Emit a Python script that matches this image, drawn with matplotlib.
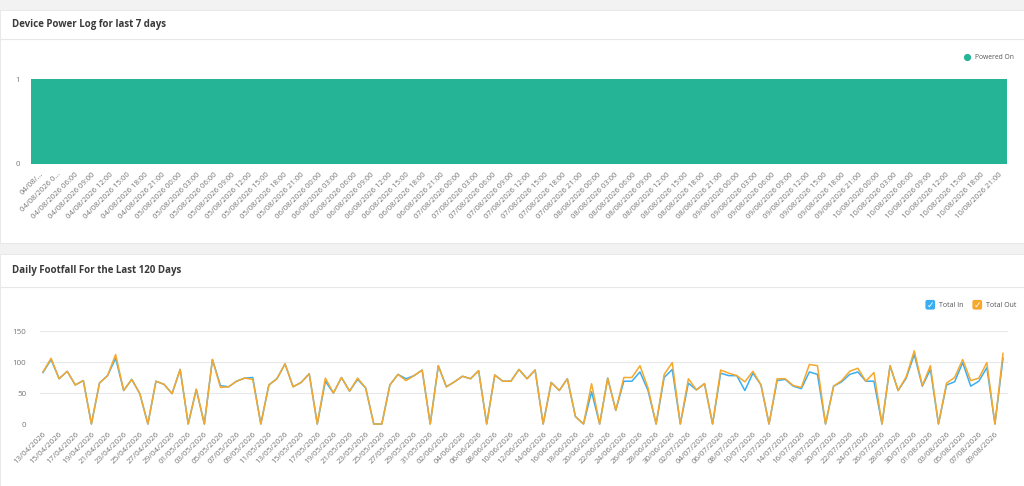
import matplotlib
matplotlib.use("Agg")
import matplotlib.pyplot as plt
from matplotlib.patches import Rectangle, FancyBboxPatch, Circle
from datetime import date, timedelta

plt.rcParams['font.family'] = ['Open Sans', 'DejaVu Sans']

# --- data: device power log (3-hour slots, last 7 days) ---
power_days = ['04', '05', '06', '07', '08', '09', '10']
power_hours = ['00', '03', '06', '09', '12', '15', '18', '21']
power_labels = [f"{d}/08/2026 {h}:00" for d in power_days for h in power_hours]
power_labels[0] = "04/08/..."
power_labels[1] = "04/08/2026 0..."
powered_on = [1] * len(power_labels)

# --- data: daily footfall, 120 days from 13/04/2026 ---
start_day = date(2026, 4, 13)
total_out = [84, 106, 73, 85, 63, 70, 0, 66, 78, 112, 54, 72, 49, 0, 69, 64, 49, 88, 0, 56,
             0, 104, 59, 60, 69, 74, 72, 0, 63, 73, 97, 60, 67, 81, 0, 74, 50, 75, 53, 74,
             58, 0, 0, 63, 80, 70, 78, 87, 0, 94, 60, 68, 77, 73, 86, 0, 79, 69, 69, 88,
             73, 87, 0, 67, 54, 73, 12, 0, 65, 0, 74, 22, 75, 75, 94, 58, 0, 80, 99, 0,
             73, 55, 65, 0, 87, 82, 78, 68, 85, 63, 0, 73, 73, 62, 59, 96, 94, 0, 61, 70,
             85, 90, 69, 83, 0, 94, 54, 76, 118, 62, 94, 0, 66, 75, 104, 70, 74, 99, 0, 114]
total_in = [83, 104, 73, 85, 63, 70, 0, 66, 78, 106, 54, 72, 49, 0, 69, 64, 49, 88, 0, 56,
            0, 104, 62, 60, 69, 74, 75, 0, 63, 73, 97, 60, 67, 81, 0, 69, 50, 75, 53, 72,
            58, 0, 0, 63, 80, 73, 78, 87, 0, 94, 60, 68, 77, 73, 86, 0, 79, 69, 69, 88,
            73, 87, 0, 67, 54, 73, 12, 0, 52, 0, 74, 22, 69, 69, 84, 54, 0, 75, 88, 0,
            66, 55, 65, 0, 82, 78, 78, 54, 82, 63, 0, 70, 72, 61, 57, 84, 80, 0, 61, 68,
            80, 84, 69, 69, 0, 94, 54, 74, 112, 61, 88, 0, 63, 68, 99, 61, 69, 91, 0, 106]
foot_labels = [(start_day + timedelta(days=i)).strftime("%d/%m/%Y") for i in range(len(total_out))]

W, H = 1024, 486
fig = plt.figure(figsize=(W / 100, H / 100), dpi=100)
fig.patch.set_facecolor('#f2f2f2')

def fx(px):
    return px / W

def fy(py):
    return 1 - py / H

# white cards + header separators
bg = fig.add_axes([0, 0, 1, 1])
bg.set_xlim(0, W)
bg.set_ylim(H, 0)
bg.axis('off')
bg.add_patch(Rectangle((0, 10), W, 233, facecolor='white', edgecolor='#e6e6e6', lw=0.6))
bg.add_patch(Rectangle((0, 254), W, 240, facecolor='white', edgecolor='#e6e6e6', lw=0.6))
bg.plot([0, W], [39.5, 39.5], color='#e8e8e8', lw=0.8)
bg.plot([0, W], [286.5, 286.5], color='#e8e8e8', lw=0.8)
bg.text(12, 25, "Device Power Log for last 7 days", fontsize=7.0, fontweight='bold',
        color='#3a3a3a', va='center', ha='left')
bg.text(12, 270, "Daily Footfall For the Last 120 Days", fontsize=7.0, fontweight='bold',
        color='#3a3a3a', va='center', ha='left')

teal = '#25b495'
blue = '#3aaef2'
orange = '#f5a82c'

# legends
bg.add_patch(Circle((967.5, 57.5), 3.6, facecolor=teal, edgecolor='none'))
bg.text(975, 57.5, "Powered On", fontsize=4.9, color='#555555', va='center', ha='left')
for x0, col, lab in [(925, blue, "Total In"), (972, orange, "Total Out")]:
    bg.add_patch(FancyBboxPatch((x0 + 1, 300.5), 8.5, 8.5, boxstyle="round,pad=0.6,rounding_size=2",
                                facecolor=col, edgecolor='none'))
    bg.text(x0 + 5.3, 305, "\u2713", fontsize=6.5, color='white', va='center', ha='center',
            fontweight='bold', family='DejaVu Sans')
    bg.text(x0 + 14, 305, lab, fontsize=5.0, color='#555555', va='center', ha='left')

# --- top chart ---
ax1 = fig.add_axes([fx(31), fy(164), fx(1007 - 31), (164 - 79) / H])
xs = range(len(power_labels))
ax1.bar(xs, powered_on, width=1.0, color=teal, edgecolor=teal, lw=0.3)
ax1.set_xlim(-0.5, len(power_labels) - 0.5)
ax1.set_ylim(0, 1)
ax1.set_yticks([0, 1])
ax1.set_yticklabels(['0', '1'])
ax1.set_xticks(list(xs))
ax1.set_xticklabels(power_labels, rotation=45, ha='right', va='top', rotation_mode='anchor')
for s in ax1.spines.values():
    s.set_visible(False)
ax1.tick_params(axis='both', length=0, labelsize=5.6, labelcolor='#777777')
ax1.tick_params(axis='x', pad=5)
ax1.tick_params(axis='y', pad=8)

# --- bottom chart ---
ax2 = fig.add_axes([fx(40), fy(424), fx(1008 - 40), (424 - 331) / H])
days = range(len(total_out))
ax2.plot(days, total_in, color=blue, lw=1.1, zorder=3, clip_on=False)
ax2.plot(days, total_out, color=orange, lw=1.1, zorder=4, clip_on=False)
ax2.set_xlim(-3 / 8.067, 119 + 5 / 8.067)
ax2.set_ylim(0, 150)
ax2.set_yticks([0, 50, 100, 150])
ax2.yaxis.grid(True, color='#e8e8e8', lw=0.8)
ax2.set_axisbelow(True)
tick_pos = list(days)[::2]
ax2.set_xticks(tick_pos)
ax2.set_xticklabels([foot_labels[i] for i in tick_pos], rotation=45, ha='right', va='top',
                    rotation_mode='anchor')
for s in ax2.spines.values():
    s.set_visible(False)
ax2.tick_params(axis='both', length=0, labelsize=5.8, labelcolor='#777777')
ax2.tick_params(axis='x', pad=5)
ax2.tick_params(axis='y', pad=10)

fig.savefig('out.png', dpi=100, facecolor=fig.get_facecolor())
